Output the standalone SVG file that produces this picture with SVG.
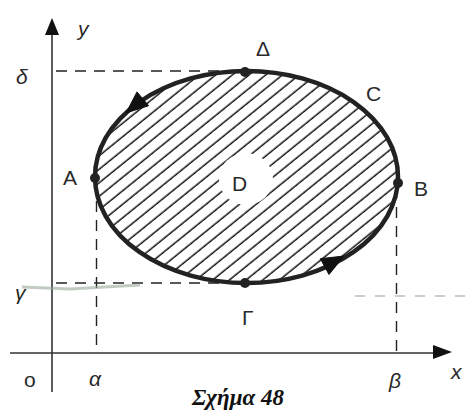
<svg xmlns="http://www.w3.org/2000/svg" width="473" height="410" viewBox="0 0 473 410">
<style>
.ax{stroke:#333;stroke-width:1.6;fill:none}
.dash{stroke:#222;stroke-width:1.4;stroke-dasharray:11 8;fill:none}
.lbl{font-family:"Liberation Sans","DejaVu Sans",sans-serif;font-size:21px;fill:#2a2a2a}
.it{font-style:italic}
.cap{font-family:"Liberation Serif","DejaVu Serif",serif;font-size:23px;font-weight:bold;font-style:italic;fill:#111}
.dot{fill:#222}
.arr{fill:#111;stroke:#111;stroke-width:1;stroke-linejoin:round}
</style>
<defs>
<pattern id="hatch" width="10.5" height="10.5" patternUnits="userSpaceOnUse" patternTransform="rotate(-39)">
<line x1="0" y1="5" x2="10.5" y2="5" stroke="#111" stroke-width="1.5"/>
</pattern>
<clipPath id="ec"><ellipse cx="246.5" cy="177" rx="151.5" ry="106"/></clipPath>
</defs>
<g id="axes">
<line class="ax" x1="52" y1="392" x2="52" y2="30"/>
<path d="M52,18 L45,35 L59,35 z" fill="#111"/>
<line class="ax" x1="10" y1="353" x2="438" y2="353"/>
<path d="M452,352 L433,345 L433,359 z" fill="#111"/>
</g>
<g id="guides">
<line class="dash" x1="56" y1="71" x2="242" y2="71"/>
<line class="dash" x1="56" y1="283" x2="242" y2="283"/>
<line class="dash" x1="96.5" y1="182" x2="96.5" y2="353"/>
<line class="dash" x1="396.5" y1="188" x2="396.5" y2="353"/>
<path d="M22,287 L70,289 L140,285" stroke="#9aa89a" stroke-width="3" fill="none" opacity="0.6"/>
<line x1="355" y1="296" x2="473" y2="296" stroke="#a8b0b0" stroke-width="1.3" stroke-dasharray="10 10" opacity="0.8"/>
</g>
<g id="region">
<rect x="90" y="66" width="315" height="222" fill="url(#hatch)" clip-path="url(#ec)"/>
<ellipse cx="246" cy="179" rx="27" ry="26" fill="#fff"/>
<ellipse cx="246.5" cy="177" rx="151.5" ry="106" fill="none" stroke="#222" stroke-width="4.5"/>
<path class="arr" d="M126,113 L148.6,105.7 L137,91.9 z"/>
<path class="arr" d="M344,256 L329,274.5 L320.4,258.7 z"/>
</g>
<g id="points">
<circle class="dot" cx="95" cy="178" r="5"/>
<circle class="dot" cx="398" cy="183" r="5"/>
<circle class="dot" cx="245" cy="72" r="5"/>
<circle class="dot" cx="245" cy="283" r="5"/>
</g>
<g id="labels">
<text class="lbl it" x="78" y="36" font-size="26">y</text>
<text class="lbl it" x="16" y="84" font-size="25">δ</text>
<text class="lbl" x="256" y="56" font-size="21">Δ</text>
<text class="lbl" x="366" y="101" font-size="22">C</text>
<text class="lbl" x="63" y="185" font-size="22">A</text>
<text class="lbl" x="414" y="196" font-size="22">B</text>
<text class="lbl it" x="15" y="300" font-size="25">γ</text>
<text class="lbl" x="242" y="325" font-size="23">Γ</text>
<text class="lbl" x="232" y="191" font-family="Liberation Serif,serif" font-size="30">D</text>
<text class="lbl" x="24" y="387" font-size="22">o</text>
<text class="lbl it" x="89" y="386" font-size="24">α</text>
<text class="lbl it" x="389" y="388" font-size="24">β</text>
<text class="lbl it" x="451" y="379" font-size="24">x</text>
<text class="cap" x="238" y="405" text-anchor="middle">Σχήμα 48</text>
</g>
</svg>
